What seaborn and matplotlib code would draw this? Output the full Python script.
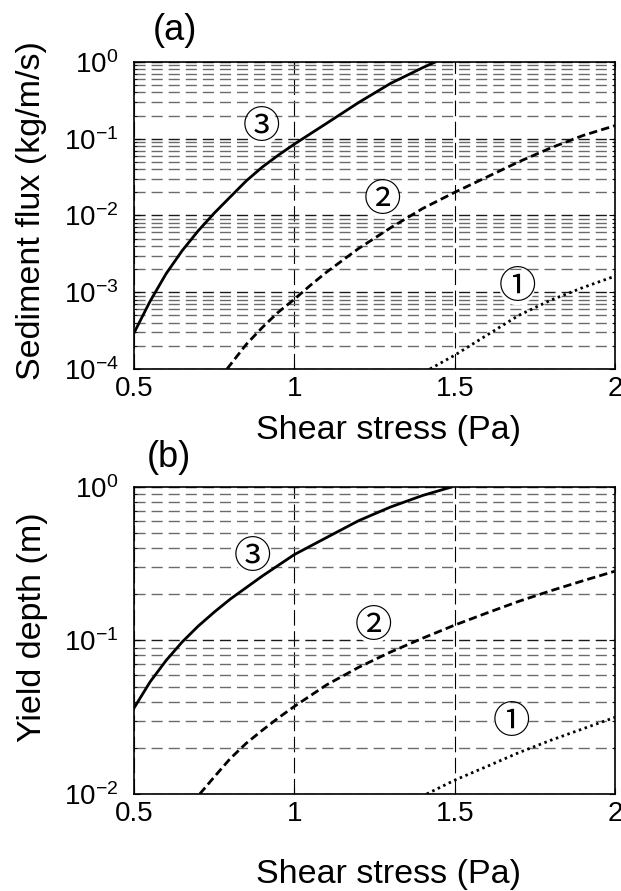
import numpy as np
import pandas as pd
import matplotlib
matplotlib.use("Agg")
import matplotlib.pyplot as plt
from matplotlib import font_manager
from matplotlib.ticker import LogLocator, FixedLocator, FixedFormatter, NullFormatter
import seaborn as sns

# ---- (a) sediment flux vs shear stress ----
stress_a3 = [0.50, 0.55, 0.60, 0.65, 0.70, 0.75, 0.80, 0.85, 0.90, 0.95, 1.00, 1.10, 1.20, 1.30, 1.40, 1.44]
flux_3 = [2.95e-4, 7.6e-4, 1.74e-3, 3.47e-3, 6.3e-3, 1.07e-2, 1.74e-2, 2.82e-2, 4.27e-2, 6.1e-2,
          8.5e-2, 1.58e-1, 2.95e-1, 5.25e-1, 8.41e-1, 1.0]

stress_a2 = [0.79, 0.85, 0.90, 0.95, 1.00, 1.05, 1.10, 1.20, 1.30, 1.40, 1.50, 1.60, 1.70, 1.80, 1.90, 2.00]
flux_2 = [1.0e-4, 2.09e-4, 3.47e-4, 5.5e-4, 8.1e-4, 1.23e-3, 1.82e-3, 3.7e-3, 6.9e-3, 1.23e-2,
          2.0e-2, 3.16e-2, 5.0e-2, 7.6e-2, 0.11, 0.148]

stress_a1 = [1.423, 1.50, 1.60, 1.70, 1.80, 1.90, 2.00]
flux_1 = [1.0e-4, 1.51e-4, 2.75e-4, 5.0e-4, 7.9e-4, 1.15e-3, 1.62e-3]

# ---- (b) yield depth vs shear stress ----
stress_b3 = [0.50, 0.55, 0.60, 0.65, 0.70, 0.75, 0.80, 0.90, 1.00, 1.10, 1.20, 1.30, 1.40, 1.49]
depth_3 = [0.0363, 0.0537, 0.0741, 0.0977, 0.124, 0.153, 0.186, 0.263, 0.363, 0.468, 0.603, 0.741, 0.881, 1.0]

stress_b2 = [0.705, 0.75, 0.80, 0.85, 0.90, 0.95, 1.00, 1.10, 1.20, 1.30, 1.40, 1.50, 1.60, 1.70, 1.80, 1.90, 2.00]
depth_2 = [0.0100, 0.0129, 0.0170, 0.0214, 0.0260, 0.0313, 0.0372, 0.0513, 0.0668, 0.0841, 0.1035,
           0.126, 0.151, 0.180, 0.211, 0.245, 0.283]

stress_b1 = [1.413, 1.50, 1.60, 1.70, 1.80, 1.90, 2.00]
depth_1 = [0.0100, 0.0123, 0.0151, 0.0186, 0.0224, 0.0266, 0.0316]

x_ticks = [0.5, 1.0, 1.5, 2.0]
x_tick_labels = ["0.5", "1", "1.5", "2"]
case_marks = ["\u2460", "\u2461", "\u2462"]

installed = {f.name for f in font_manager.fontManager.ttflist}
tick_family = "Liberation Sans Narrow" if "Liberation Sans Narrow" in installed else "Liberation Sans"

sns.set_style("ticks")
plt.rcParams["font.family"] = [tick_family, "Liberation Sans", "DejaVu Sans"]
plt.rcParams["mathtext.fontset"] = "custom"
plt.rcParams["mathtext.rm"] = tick_family
plt.rcParams["mathtext.it"] = tick_family
plt.rcParams["mathtext.bf"] = tick_family + ":bold"
for key in ("text.color", "axes.labelcolor", "xtick.color", "ytick.color", "axes.edgecolor"):
    plt.rcParams[key] = "black"

fig = plt.figure(figsize=(6.21, 8.91), dpi=100)
ax_a = fig.add_axes([0.2158, 0.5859, 0.7746, 0.3446])
ax_b = fig.add_axes([0.2158, 0.1089, 0.7746, 0.3445])

LW = 2.0
styles = {
    3: dict(linestyle="-"),
    2: dict(linestyle=(0, (3.0, 1.5))),
    1: dict(linestyle=(0, (0.9, 1.3))),
}


def draw_curves(ax, curves):
    for key, (xs, ys) in curves.items():
        df = pd.DataFrame({"stress": xs, "value": ys})
        sns.lineplot(data=df, x="stress", y="value", ax=ax, color="black", lw=LW,
                     sort=False, estimator=None, **styles[key])


def style_axes(ax, ymin, ymax):
    ax.set_yscale("log")
    ax.set_xlim(0.5, 2.0)
    ax.set_ylim(ymin, ymax)
    ax.xaxis.set_major_locator(FixedLocator(x_ticks))
    ax.xaxis.set_major_formatter(FixedFormatter(x_tick_labels))
    ax.yaxis.set_major_locator(LogLocator(base=10, numticks=10))
    ax.yaxis.set_minor_locator(LogLocator(base=10, subs=np.arange(2, 10), numticks=20))
    ax.yaxis.set_minor_formatter(NullFormatter())
    ax.grid(False)
    ax.grid(True, which="major", axis="y", color="0.1", lw=1.0, linestyle=(0, (8, 4.3)))
    ax.grid(True, which="minor", axis="y", color="0.42", lw=1.0, linestyle=(0, (8, 4.3)))
    ax.grid(True, which="major", axis="x", color="black", lw=0.8, linestyle=(0, (14, 5)))
    ax.tick_params(which="both", direction="in", top=True, right=True, labelsize=20)
    ax.tick_params(which="major", length=4, width=0.8)
    ax.tick_params(which="minor", length=2.5, width=0.6)
    ax.tick_params(axis="x", pad=5)
    ax.tick_params(axis="y", pad=11)
    for s in ax.spines.values():
        s.set_linewidth(1.2)
        s.set_color("black")
    ax.set_xlabel("")
    ax.set_ylabel("")
    ax.set_axisbelow(True)


draw_curves(ax_a, {3: (stress_a3, flux_3), 2: (stress_a2, flux_2), 1: (stress_a1, flux_1)})
draw_curves(ax_b, {3: (stress_b3, depth_3), 2: (stress_b2, depth_2), 1: (stress_b1, depth_1)})
style_axes(ax_a, 1e-4, 1.0)
style_axes(ax_b, 1e-2, 1.0)

# case labels
mark_font = ["Noto Sans CJK JP", "DejaVu Sans"]
for ax, spots in ((ax_a, [(1.695, 10 ** -2.94), (1.275, 10 ** -1.81), (0.898, 10 ** -0.86)]),
                  (ax_b, [(1.676, 10 ** -1.537), (1.246, 10 ** -0.906), (0.868, 10 ** -0.46)])):
    for mark, (xv, yv) in zip(case_marks, spots):
        ax.text(xv, yv, mark, ha="center", va="center", fontsize=27, family=mark_font,
                bbox=dict(boxstyle="circle,pad=-0.05", fc="white", ec="none"))

# axis titles and panel tags
fs = 24.5
title_font = ["Liberation Sans", "DejaVu Sans"]
common = dict(ha="center", va="center", family=title_font)
fig.text(0.625, 0.5163, "Shear stress (Pa)", fontsize=fs, **common)
fig.text(0.625, 0.018, "Shear stress (Pa)", fontsize=fs, **common)
fig.text(0.050, 0.7637, "Sediment flux (kg/m/s)", rotation=90, fontsize=fs, **common)
fig.text(0.052, 0.2963, "Yield depth (m)", rotation=90, fontsize=fs, **common)
fig.text(0.2818, 0.9663, "(a)", fontsize=26, **common)
fig.text(0.272, 0.486, "(b)", fontsize=26, **common)

fig.savefig("out.png", dpi=100)
